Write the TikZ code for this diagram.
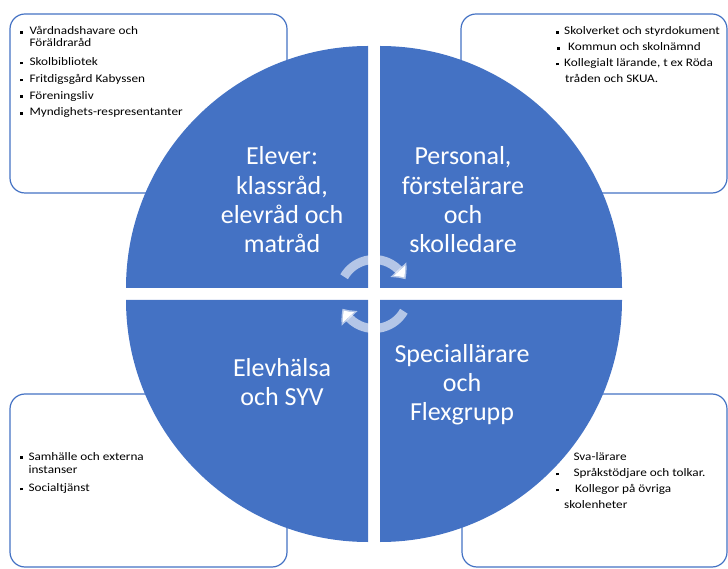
\documentclass[tikz,border=0pt]{standalone}
\usepackage{fontspec}
\setmainfont{Carlito}
\newfontfamily\smallfont[FakeStretch=1.15]{Carlito}
\usetikzlibrary{arrows.meta,bending}
\definecolor{oblue}{HTML}{4472C4}
\newcommand{\mybul}{\rule[1.3pt]{2.8pt}{2.8pt}}
\begin{document}
\begin{tikzpicture}[x=1pt,y=1pt,
  quad/.style={fill=oblue},
  big/.style={text=white, font=\fontsize{26}{29}\selectfont, anchor=base, inner sep=0},
  small/.style={font=\smallfont\fontsize{11.5}{12}\selectfont, anchor=base west, inner sep=0, text=black},
  infobox/.style={draw=oblue, line width=1.2pt, rounded corners=15pt, fill=white, inner sep=0},
  cyc/.style={draw=white, draw opacity=0.6, line width=9pt, -{Triangle[width=21pt,length=12pt,bend]}}
]
\useasboundingbox (0,0) rectangle (728,568);

% info boxes
\node[infobox, minimum width=277pt, minimum height=179pt] (boxTL) at (148.5,464.5) {};
\node[infobox, minimum width=266pt, minimum height=179pt] (boxTR) at (594,464.5) {};
\node[infobox, minimum width=277pt, minimum height=173pt] (boxBL) at (148.5,87.5) {};
\node[infobox, minimum width=265pt, minimum height=173pt] (boxBR) at (594.5,87.5) {};

% quadrants
\fill[quad] (368,280) -- (126,280) arc[start angle=180, end angle=90, radius=242] -- cycle;
\fill[quad] (380,280) -- (622,280) arc[start angle=0, end angle=90, radius=242] -- cycle;
\fill[quad] (368,268) -- (126,268) arc[start angle=180, end angle=270, radius=242] -- cycle;
\fill[quad] (380,268) -- (622,268) arc[start angle=0, end angle=-90, radius=242] -- cycle;

% quadrant texts
\node[big] (tl1) at (282,403) {Elever:};
\node[big] (tl2) at (282,373.7) {klassråd,};
\node[big] (tl3) at (282,344.4) {elevråd och};
\node[big] (tl4) at (282,315.1) {matråd};

\node[big] (tr1) at (463,403) {Personal,};
\node[big] (tr2) at (463,373.7) {förstelärare};
\node[big] (tr3) at (463,344.4) {och};
\node[big] (tr4) at (463,315.1) {skolledare};

\node[big] (bl1) at (282,191.3) {Elevhälsa};
\node[big] (bl2) at (282,162) {och SYV};

\node[big] (br1) at (462,205.7) {Speciallärare};
\node[big] (br2) at (462,176.5) {och};
\node[big] (br3) at (462,147.3) {Flexgrupp};

% cycle arrows
\coordinate (cc) at (374,274);
\draw[cyc] (cc) ++(150:34.5) arc[start angle=150, end angle=25, radius=34.5];
\draw[cyc] (cc) ++(-30:34.5) arc[start angle=-30, end angle=-155, radius=34.5];

% top-left box text
\node[small] (a1) at (20,533) {\makebox[9.3pt][l]{\mybul}Vårdnadshavare och};
\node[small] (a1b) at (29.3,521.3) {Föräldraråd};
\node[small] (a2) at (20,502.3) {\makebox[9.3pt][l]{\mybul}Skolbibliotek};
\node[small] (a3) at (20,485.3) {\makebox[9.3pt][l]{\mybul}Fritdigsgård Kabyssen};
\node[small] (a4) at (20,468.7) {\makebox[9.3pt][l]{\mybul}Föreningsliv};
\node[small] (a5) at (20,452) {\makebox[9.3pt][l]{\mybul}Myndighets-respresentanter};

% top-right box text
\node[small] (b1) at (556,533) {\makebox[8pt][l]{\mybul}Skolverket och styrdokument};
\node[small] (b2) at (556.7,517) {\makebox[11.3pt][l]{\mybul}Kommun och skolnämnd};
\node[small] (b3) at (556,501.3) {\makebox[8pt][l]{\mybul}Kollegialt lärande, t ex Röda};
\node[small] (b3b) at (565,485.3) {tråden och SKUA.};

% bottom-left box text
\node[small] (c1) at (20,108) {\makebox[8.3pt][l]{\mybul}Samhälle och externa};
\node[small] (c1b) at (28.3,94.7) {instanser};
\node[small] (c2) at (20,76.3) {\makebox[8.3pt][l]{\mybul}Socialtjänst};

% bottom-right box text
\node[small] (d1) at (573.3,108) {Sva-lärare};
\node[small] (d2) at (556,91.3) {\makebox[17.3pt][l]{\mybul}Språkstödjare och tolkar.};
\node[small] (d3) at (556,75.3) {\makebox[19pt][l]{\mybul}Kollegor på övriga};
\node[small] (d3b) at (564,59.7) {skolenheter};
\end{tikzpicture}
\end{document}
